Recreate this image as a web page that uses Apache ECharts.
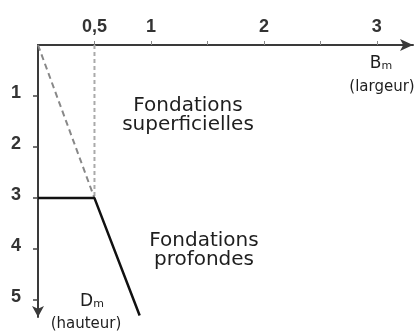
<!DOCTYPE html>
<html>
<head>
<meta charset="utf-8">
<script src="https://cdn.jsdelivr.net/npm/echarts@6/dist/echarts.min.js"></script>
<style>
html, body { margin: 0; padding: 0; background: #fff; }
#chart { width: 419px; height: 332px; }
</style>
</head>
<body>
<div id="chart"></div>
<script>
// axes : B largeur (m), D hauteur (m)
var xTicks = [0.5, 1, 1.5, 2, 2.5, 3];
var xLabels = [0.5, 1, 2, 3];
var yTicks = [1, 2, 3, 4, 5];
var xMax = 3.32;
var yMax = 5.33;

// limites
var limitDashed = [[0, 0], [0.5, 3]];
var limitVertical = [[0.5, 0], [0.5, 3]];
var limitSolid = [[0, 3], [0.5, 3], [0.9, 5.3]];

var font = '"DejaVu Sans", sans-serif';
var tickFont = '"Liberation Sans", Arial, sans-serif';
var ink = '#1e1e1e';

var myChart = echarts.init(document.getElementById('chart'));

var option = {
  animation: false,
  grid: { left: 38, top: 45, right: 6, bottom: 15 },
  xAxis: {
    type: 'value',
    position: 'top',
    min: 0,
    max: xMax,
    splitLine: { show: false },
    axisLine: {
      show: true,
      symbol: ['none', 'arrow'],
      symbolSize: [9, 13],
      lineStyle: { color: '#3a3a3a', width: 2 }
    },
    axisTick: {
      show: true,
      customValues: xTicks,
      length: 4,
      lineStyle: { color: '#888', width: 1 }
    },
    axisLabel: {
      customValues: xLabels,
      margin: 9,
      color: '#333',
      fontFamily: tickFont,
      fontSize: 18,
      fontWeight: 'bold',
      formatter: function (v) { return String(v).replace('.', ','); }
    }
  },
  yAxis: {
    type: 'value',
    inverse: true,
    min: 0,
    max: yMax,
    splitLine: { show: false },
    axisLine: {
      show: true,
      symbol: ['arrow', 'none'],
      symbolSize: [9, 11],
      lineStyle: { color: '#3a3a3a', width: 2 }
    },
    axisTick: {
      show: true,
      customValues: yTicks,
      length: 5,
      lineStyle: { color: '#444', width: 1.5 }
    },
    axisLabel: {
      customValues: yTicks,
      margin: 17,
      color: '#333',
      fontFamily: tickFont,
      fontSize: 18,
      fontWeight: 'bold',
      verticalAlign: 'bottom',
      lineHeight: 7
    }
  },
  series: [
    {
      type: 'line',
      data: limitVertical,
      symbol: 'none',
      lineStyle: { color: '#aaa', width: 2, type: [4, 3] }
    },
    {
      type: 'line',
      data: limitDashed,
      symbol: 'none',
      lineStyle: { color: '#888', width: 2, type: [6, 4] }
    },
    {
      type: 'line',
      data: limitSolid,
      symbol: 'none',
      lineStyle: { color: '#111', width: 2.5 }
    }
  ],
  graphic: [
    {
      type: 'text', x: 188, y: 115,
      style: {
        text: 'Fondations\nsuperficielles', fill: ink, font: '20px ' + font,
        lineHeight: 19, align: 'center', verticalAlign: 'middle'
      }
    },
    {
      type: 'text', x: 204, y: 250,
      style: {
        text: 'Fondations\nprofondes', fill: ink, font: '20px ' + font,
        lineHeight: 19, align: 'center', verticalAlign: 'middle'
      }
    },
    {
      type: 'text', x: 381, y: 72,
      style: {
        text: '{b|B}{s|m}', align: 'center', verticalAlign: 'bottom',
        rich: {
          b: { fontSize: 17, fontFamily: font, fill: ink },
          s: { fontSize: 11, fontFamily: font, fill: ink, verticalAlign: 'bottom', padding: [6, 0, 0, 0] }
        }
      }
    },
    {
      type: 'text', x: 382, y: 87,
      style: { text: '(largeur)', fill: ink, font: '15px ' + font, align: 'center', verticalAlign: 'middle' }
    },
    {
      type: 'text', x: 92, y: 310,
      style: {
        text: '{b|D}{s|m}', align: 'center', verticalAlign: 'bottom',
        rich: {
          b: { fontSize: 17, fontFamily: font, fill: ink },
          s: { fontSize: 11, fontFamily: font, fill: ink, verticalAlign: 'bottom', padding: [6, 0, 0, 0] }
        }
      }
    },
    {
      type: 'text', x: 86, y: 324,
      style: { text: '(hauteur)', fill: ink, font: '15px ' + font, align: 'center', verticalAlign: 'middle' }
    }
  ]
};

myChart.setOption(option);
</script>
</body>
</html>
